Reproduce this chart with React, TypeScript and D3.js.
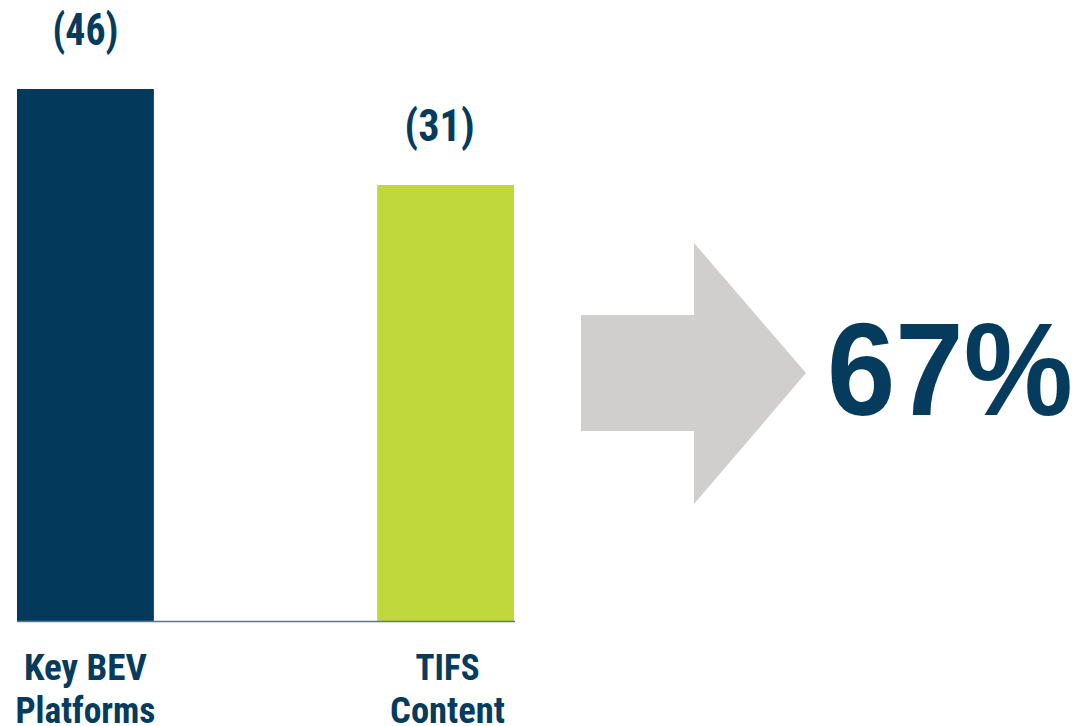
import React from "react";
import * as d3 from "d3";

const categories = ["Key BEV Platforms", "TIFS Content"];
const categoryLines = [["Key BEV", "Platforms"], ["TIFS", "Content"]];
const values = [46, 31];
const valueLabels = ["(46)", "(31)"];
const barColors = ["#033a5b", "#c0d83c"];
const summaryLabel = "67%";

// layout-only text widths (px) to mimic condensed bold lettering
const valueLabelWidths = [66, 70];
const lineWidths = [[123, 140], [64, 115]];

const W = 1079;
const H = 726;
const NAVY = "#053b5c";
const COND = "'Roboto Condensed', 'Liberation Sans Narrow', 'DejaVu Sans Condensed', 'Liberation Sans', Arial, sans-serif";

export default function App() {
  const x = d3.scaleBand<string>().domain(categories).range([17, 514]).paddingInner(0.62).paddingOuter(0);
  const y = d3.scaleLinear().domain([-37.125, 46]).range([621, 89]);
  const baseY = 621;

  const ax0 = 581, ax1 = 694, axTip = 806;
  const sy0 = 315, sy1 = 431, hy0 = 243, hy1 = 504, tipY = 373;
  const arrow = d3.line()([
    [ax0, sy0], [ax1, sy0], [ax1, hy0], [axTip, tipY], [ax1, hy1], [ax1, sy1], [ax0, sy1],
  ]) + "Z";

  return (
    <svg width={W} height={H} style={{ position: "absolute", left: 0, top: 0, background: "#fff" }}>
      {categories.map((c, i) => {
        const bx = x(c)!;
        const bw = x.bandwidth();
        const cx = bx + bw / 2;
        return (
          <g key={c}>
            <rect x={bx} y={y(values[i])} width={bw} height={baseY - y(values[i])} fill={barColors[i]} />
            <text
              x={cx + (i === 1 ? -6 : 0)}
              y={y(values[i]) - 44}
              textAnchor="middle"
              fontFamily={COND}
              fontWeight="bold"
              fontSize={44}
              fill={NAVY}
              textLength={valueLabelWidths[i]}
              lengthAdjust="spacingAndGlyphs"
            >
              {valueLabels[i]}
            </text>
            {categoryLines[i].map((ln, j) => (
              <text
                key={ln}
                x={cx + (i === 0 ? 0 : 2)}
                y={680 + j * 43}
                textAnchor="middle"
                fontFamily={COND}
                fontWeight="bold"
                fontSize={37}
                fill={NAVY}
                textLength={lineWidths[i][j]}
                lengthAdjust="spacingAndGlyphs"
              >
                {ln}
              </text>
            ))}
          </g>
        );
      })}
      <line x1={17} x2={515} y1={baseY + 0.5} y2={baseY + 0.5} stroke="#5a7890" strokeWidth={1.5} />
      <path d={arrow} fill="#d0cfcd" />
      <text
        x={827}
        y={415}
        fontFamily="'Liberation Sans', Arial, sans-serif"
        fontWeight="bold"
        fontSize={132}
        fill={NAVY}
        textLength={246}
        lengthAdjust="spacingAndGlyphs"
      >
        {summaryLabel}
      </text>
    </svg>
  );
}
